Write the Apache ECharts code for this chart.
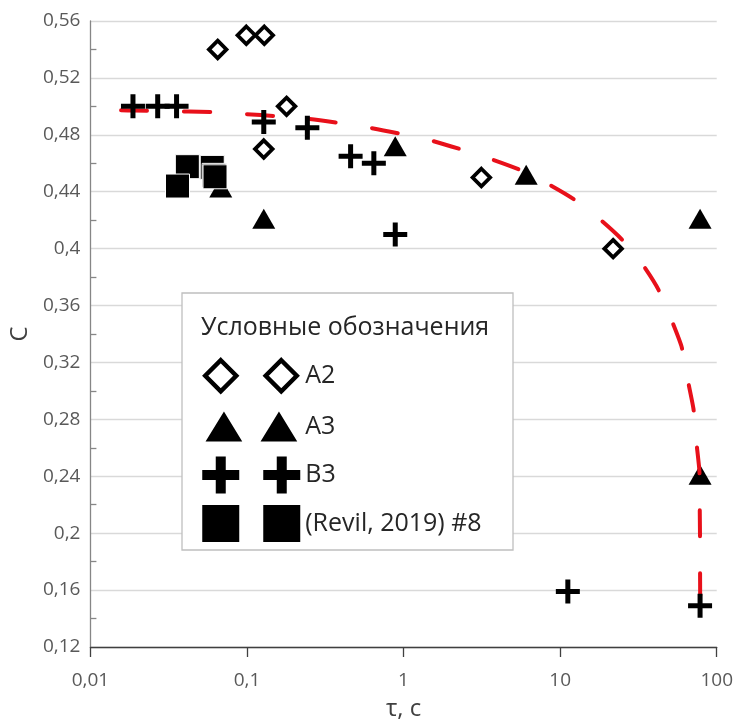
<!DOCTYPE html>
<html>
<head>
<meta charset="utf-8">
<script src="https://cdn.jsdelivr.net/npm/echarts@6/dist/echarts.min.js"></script>
<style>
  html, body { margin: 0; padding: 0; background: #fff; }
  #chart { width: 736px; height: 726px; }
</style>
</head>
<body>
<div id="chart"></div>
<script>
// Relaxation time τ (s) against chargeability C for each sample
const tauA2 = [0.065, 0.099, 0.129, 0.179, 0.128, 3.14, 21.8];
const cA2 = [0.54, 0.55, 0.55, 0.50, 0.47, 0.45, 0.40];

const tauA3 = [0.068, 0.128, 0.885, 6.07, 78.3, 78.3];
const cA3 = [0.443, 0.421, 0.472, 0.452, 0.421, 0.241];

const tauB3 = [0.0187, 0.0269, 0.0355, 0.128, 0.243, 0.459, 0.646, 0.885, 11.2, 78.3];
const cB3 = [0.50, 0.50, 0.50, 0.489, 0.485, 0.465, 0.46, 0.41, 0.159, 0.149];

const tauRevil = [0.0416, 0.036, 0.0600, 0.0617, 0.0625];
const cRevil = [0.4576, 0.444, 0.4571, 0.4515, 0.4505];

// Trend curve (red dashed)
const tauFit = [0.0157, 0.019, 0.03, 0.06, 0.1, 0.15, 0.25, 0.38, 0.62, 0.93, 1.5, 2.3, 3.6, 5.5, 8.5, 12.3, 18.2, 25, 34.2, 42.6, 51.8, 59.9, 66.1, 71.1, 74, 77.6, 77.9, 78.2, 78.3, 78.4];
const cFit = [0.4972, 0.4971, 0.4966, 0.496, 0.4945, 0.4932, 0.4912, 0.4885, 0.4848, 0.481, 0.476, 0.470, 0.463, 0.4555, 0.445, 0.4345, 0.420, 0.406, 0.3876, 0.3708, 0.349, 0.3304, 0.305, 0.2872, 0.265, 0.243, 0.219, 0.199, 0.175, 0.156];

// Axis ticks
const yMin = 0.12, yMax = 0.56, yStep = 0.04;
const xMin = 0.01, xMax = 100;

// Legend entries
const legendTitle = 'Условные обозначения';
const nameA2 = 'A2', nameA3 = 'A3', nameB3 = 'B3', nameRevil = '(Revil, 2019) #8';

const zip = (xs, ys) => xs.map((x, i) => [x, ys[i]]);
const comma = v => String(Number(v.toPrecision(6))).replace('.', ',');

const FONT = 'Open Sans';
const PLUS = 'path://M9.5,0H14.5V9.5H24V14.5H14.5V24H9.5V14.5H0V9.5H9.5Z';

// Legend icons: two markers side by side in a 98x37 box
const ICON_DIAMONDS = 'path://M0,0M98,37M18.5,3L34,18.5L18.5,34L3,18.5ZM79,3L94.5,18.5L79,34L63.5,18.5Z';
const ICON_TRIANGLES = 'path://M0,0M98,37M21.7,3.5L40,33.5L3.3,33.5ZM76.7,3.5L95,33.5L58.3,33.5Z';
const ICON_PLUSES = 'path://M13.5,0H23.5V13.5H37V23.5H23.5V37H13.5V23.5H0V13.5H13.5ZM74.5,0H84.5V13.5H98V23.5H84.5V37H74.5V23.5H61V13.5H74.5Z';
const ICON_SQUARES = 'path://M0,0H37V37H0ZM61,0H98V37H61Z';

const chart = echarts.init(document.getElementById('chart'), null, { renderer: 'canvas' });

chart.setOption({
  animation: false,
  backgroundColor: '#ffffff',
  textStyle: { fontFamily: FONT },
  grid: { left: 90, right: 16, top: 21, bottom: 75, containLabel: false },
  xAxis: {
    type: 'log',
    logBase: 10,
    min: xMin,
    max: xMax,
    name: 'τ, с',
    nameLocation: 'middle',
    nameGap: 50,
    nameTextStyle: { fontSize: 24, color: '#404040', fontFamily: FONT },
    axisLine: { lineStyle: { color: '#404040', width: 1.3 } },
    axisTick: { show: true, length: 10, lineStyle: { color: '#404040', width: 1.3 } },
    axisLabel: { fontSize: 19, color: '#595959', margin: 24, formatter: comma, fontFamily: FONT },
    splitLine: { show: false },
    minorTick: { show: false }
  },
  yAxis: {
    type: 'value',
    min: yMin,
    max: yMax,
    interval: yStep,
    name: 'C',
    nameLocation: 'middle',
    nameGap: 57,
    nameTextStyle: { fontSize: 24, color: '#404040', fontFamily: FONT },
    axisLine: { show: true, lineStyle: { color: '#868686', width: 1.3 } },
    axisTick: { show: false, inside: true },
    minorTick: { show: true, splitNumber: 2, length: 6, lineStyle: { color: '#868686', width: 1.3 } },
    axisLabel: { fontSize: 19, color: '#595959', margin: 10, formatter: comma, fontFamily: FONT },
    splitLine: { show: true, lineStyle: { color: '#d9d9d9', width: 1.3 } }
  },
  legend: {
    orient: 'vertical',
    left: 200,
    top: 355,
    padding: 0,
    itemWidth: 98,
    itemHeight: 37,
    itemGap: 11.5,
    z: 60,
    selectedMode: false,
    textStyle: { fontSize: 25, color: '#262626', fontFamily: FONT },
    data: [
      { name: nameA2, icon: ICON_DIAMONDS, itemStyle: { color: '#ffffff', borderColor: '#000000', borderWidth: 4.5 } },
      { name: nameA3, icon: ICON_TRIANGLES, itemStyle: { color: '#000000', borderWidth: 0 } },
      { name: nameB3, icon: ICON_PLUSES, itemStyle: { color: '#000000', borderWidth: 0 } },
      { name: nameRevil, icon: ICON_SQUARES, itemStyle: { color: '#000000', borderWidth: 0 } }
    ]
  },
  graphic: [
    {
      type: 'rect',
      z: 50,
      shape: { x: 182, y: 293, width: 331, height: 257 },
      style: { fill: '#ffffff', stroke: '#bfbfbf', lineWidth: 1.3 }
    },
    {
      type: 'text',
      z: 55,
      x: 201,
      y: 328,
      style: {
        text: legendTitle,
        fontSize: 25,
        fontFamily: FONT,
        fill: '#262626',
        verticalAlign: 'middle',
        align: 'left'
      }
    }
  ],
  series: [
    {
      name: nameA2,
      type: 'scatter',
      z: 2,
      symbol: 'diamond',
      symbolSize: 17.5,
      itemStyle: { color: '#ffffff', borderColor: '#000000', borderWidth: 3.8, opacity: 1 },
      data: zip(tauA2, cA2)
    },
    {
      name: nameA3,
      type: 'scatter',
      z: 2,
      symbol: 'triangle',
      symbolSize: [23, 20],
      itemStyle: { color: '#000000', opacity: 1 },
      data: zip(tauA3, cA3)
    },
    {
      name: 'trend',
      type: 'line',
      z: 3,
      showSymbol: false,
      symbol: 'none',
      smooth: 0.2,
      lineStyle: { color: '#e8101a', width: 4, type: [26, 37], cap: 'round' },
      data: zip(tauFit, cFit)
    },
    {
      name: nameB3,
      type: 'scatter',
      z: 4,
      symbol: PLUS,
      symbolSize: 24,
      itemStyle: { color: '#000000', opacity: 1 },
      data: zip(tauB3, cB3)
    },
    {
      name: nameRevil,
      type: 'scatter',
      z: 4,
      symbol: 'rect',
      symbolSize: 24,
      itemStyle: { color: '#000000', borderColor: '#ffffff', borderWidth: 1, opacity: 1 },
      data: zip(tauRevil, cRevil)
    }
  ]
});
</script>
</body>
</html>
